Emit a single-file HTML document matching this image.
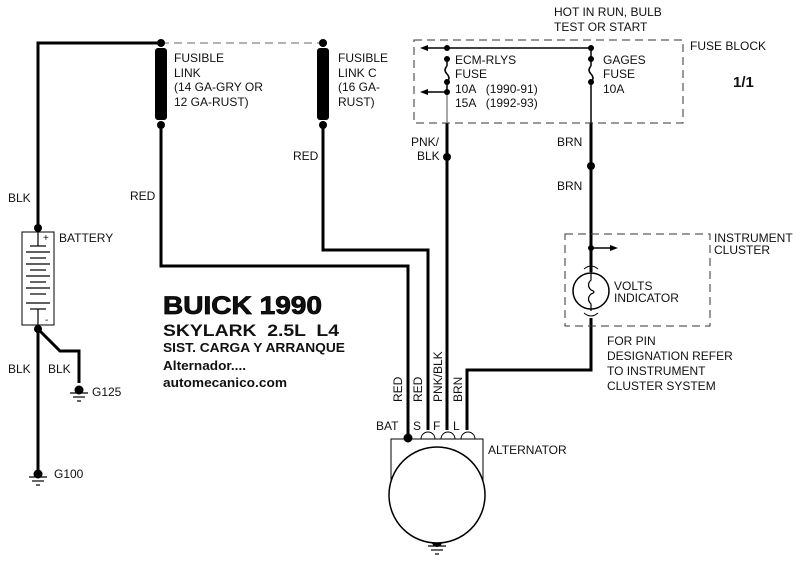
<!DOCTYPE html>
<html><head><meta charset="utf-8"><style>
body{margin:0;background:#fff;}
svg{display:block;font-family:"Liberation Sans",Arial,sans-serif;}
text{font-size:12px;fill:#111;}
.b{font-weight:bold;}
</style></head><body>
<svg width="800" height="562" viewBox="0 0 800 562" xmlns="http://www.w3.org/2000/svg">
<g stroke="#000" stroke-width="3" fill="none">
<polyline points="161,43 38,43 38,230"/>
<line x1="38" y1="326" x2="38" y2="470"/>
<polyline points="38,329 60,351 79,351 79,383"/>
<polyline points="161,125 161,266 408,266 408,438"/>
<polyline points="323,125 323,250 428,250 428,430"/>
<line x1="447" y1="123" x2="447" y2="430"/>
<polyline points="467,430 467,370 591,370 591,318"/>
<line x1="591" y1="123" x2="591" y2="272"/>
</g>
<line x1="161" y1="43" x2="323" y2="43" stroke="#999" stroke-width="1.5" stroke-dasharray="8,5"/>
<rect x="155" y="48" width="12" height="72" rx="3" fill="#000"/>
<rect x="317" y="48" width="12" height="72" rx="3" fill="#000"/>
<g fill="#000">
<circle cx="161" cy="43" r="4"/><circle cx="161" cy="125" r="4"/>
<circle cx="323" cy="43" r="4"/><circle cx="323" cy="125" r="4"/>
<circle cx="38" cy="228" r="4"/><circle cx="38" cy="329" r="4"/>
<circle cx="447" cy="157" r="4"/><circle cx="591" cy="166" r="4"/>
<circle cx="408" cy="438" r="4.5"/>
<circle cx="437" cy="542" r="5"/>
<circle cx="79" cy="390" r="4.5"/><circle cx="38" cy="474" r="4.5"/>
</g>
<g stroke="#000" stroke-width="1.2">
<line x1="70" y1="393" x2="88" y2="393"/><line x1="73" y1="397" x2="85" y2="397"/><line x1="77" y1="401" x2="81" y2="401"/>
<line x1="29" y1="477" x2="47" y2="477"/><line x1="32" y1="481" x2="44" y2="481"/><line x1="36" y1="485" x2="40" y2="485"/>
<line x1="428" y1="546" x2="446" y2="546"/><line x1="431" y1="550" x2="443" y2="550"/><line x1="435" y1="554" x2="439" y2="554"/>
</g>
<rect x="22" y="232" width="32" height="93" fill="none" stroke="#000" stroke-width="1"/>
<g stroke="#000" stroke-width="1.2">
<line x1="38" y1="232" x2="38" y2="246"/><line x1="38" y1="309" x2="38" y2="325"/>
<line x1="30" y1="246" x2="46" y2="246"/><line x1="26" y1="252" x2="50" y2="252"/>
<line x1="30" y1="258" x2="46" y2="258"/><line x1="26" y1="264" x2="50" y2="264"/>
<line x1="30" y1="270" x2="46" y2="270"/><line x1="26" y1="276" x2="50" y2="276"/>
<line x1="30" y1="282" x2="46" y2="282"/><line x1="26" y1="288" x2="50" y2="288"/>
<line x1="30" y1="294" x2="46" y2="294"/><line x1="26" y1="303" x2="50" y2="303"/>
<line x1="30" y1="309" x2="46" y2="309"/>
</g>
<text x="43" y="241" style="font-size:10px">+</text>
<text x="45" y="323" style="font-size:10px">-</text>
<rect x="414" y="40" width="269" height="83" fill="none" stroke="#333" stroke-width="1" stroke-dasharray="8,5"/>
<g stroke="#000" stroke-width="1.5" fill="none">
<line x1="426" y1="48" x2="591" y2="48"/>
<line x1="426" y1="92" x2="447" y2="92"/>
<line x1="447" y1="59" x2="447" y2="66"/><path d="M447,66 q-4,4 0,8 q4,4 0,8"/>
<line x1="447" y1="82" x2="447" y2="92"/>
<line x1="591" y1="48" x2="591" y2="66"/><path d="M591,66 q-4,4 0,8 q4,4 0,8"/>
<line x1="447" y1="92" x2="447" y2="123" stroke="#888"/>
<line x1="591" y1="82" x2="591" y2="123"/>
</g>
<g fill="#000">
<polygon points="420,48 428,45 428,51"/><polygon points="420,92 428,89 428,95"/>
<circle cx="447" cy="48" r="3"/><circle cx="447" cy="59" r="3"/><circle cx="447" cy="82" r="3"/><circle cx="447" cy="92" r="3"/>
<circle cx="591" cy="48" r="3"/><circle cx="591" cy="59" r="3"/><circle cx="591" cy="82" r="3"/>
</g>
<rect x="565" y="234" width="145" height="92" fill="none" stroke="#333" stroke-width="1" stroke-dasharray="8,5"/>
<line x1="591" y1="248" x2="612" y2="248" stroke="#000" stroke-width="1.5"/>
<polygon points="618,248 610,245 610,251" fill="#000"/>
<circle cx="591" cy="248" r="3" fill="#000"/>
<circle cx="591" cy="291" r="18" fill="#fff" stroke="#000" stroke-width="1.5"/>
<path d="M591,272 v8 q-5,5 0,10 q6,2 0,4 q-5,5 0,10 v7" fill="none" stroke="#000" stroke-width="1.2"/>
<path d="M584,269 q7,-6 14,0 M584,313 q7,6 14,0" fill="none" stroke="#000" stroke-width="1"/>
<rect x="391" y="439" width="92" height="45" fill="none" stroke="#000" stroke-width="1"/>
<circle cx="437" cy="495" r="48" fill="#fff" stroke="#000" stroke-width="1.5"/>
<path d="M421,439 a6,6 0 0 1 14,0 M441,439 a6,6 0 0 1 14,0 M461,439 a6,6 0 0 1 14,0" fill="none" stroke="#000" stroke-width="1"/>
<text x="174" y="62">FUSIBLE</text><text x="174" y="77">LINK</text>
<text x="174" y="91">(14 GA-GRY OR</text><text x="174" y="106">12 GA-RUST)</text>
<text x="338" y="62">FUSIBLE</text><text x="338" y="77">LINK C</text>
<text x="338" y="91">(16 GA-</text><text x="338" y="106">RUST)</text>
<text x="293" y="160">RED</text><text x="130" y="200">RED</text>
<text x="8" y="202">BLK</text><text x="59" y="242">BATTERY</text>
<text x="8" y="373">BLK</text><text x="48" y="373">BLK</text>
<text x="92" y="396">G125</text><text x="54" y="478">G100</text>
<text x="554" y="16">HOT IN RUN, BULB</text><text x="554" y="31">TEST OR START</text>
<text x="690" y="50">FUSE BLOCK</text>
<text x="733" y="87" class="b" style="font-size:15px">1/1</text>
<text x="455" y="64">ECM-RLYS</text><text x="455" y="78">FUSE</text>
<text x="455" y="93">10A &#160;&#160;(1990-91)</text><text x="455" y="107">15A &#160;&#160;(1992-93)</text>
<text x="603" y="64">GAGES</text><text x="603" y="78">FUSE</text><text x="603" y="93">10A</text>
<text x="411" y="146">PNK/</text><text x="417" y="160">BLK</text>
<text x="557" y="146">BRN</text><text x="557" y="190">BRN</text>
<text x="714" y="242">INSTRUMENT</text><text x="714" y="254">CLUSTER</text>
<text x="614" y="290">VOLTS</text><text x="614" y="302">INDICATOR</text>
<text x="607" y="345">FOR PIN</text><text x="607" y="360">DESIGNATION REFER</text>
<text x="607" y="375">TO INSTRUMENT</text><text x="607" y="390">CLUSTER SYSTEM</text>
<text x="163" y="314" class="b" style="font-size:25px;stroke:#000;stroke-width:0.8" textLength="159" lengthAdjust="spacingAndGlyphs">BUICK 1990</text>
<text x="163" y="336" class="b" style="font-size:17px" textLength="176" lengthAdjust="spacingAndGlyphs">SKYLARK &#160;2.5L &#160;L4</text>
<text x="163" y="352" class="b" style="font-size:13px" textLength="182" lengthAdjust="spacingAndGlyphs">SIST. CARGA Y ARRANQUE</text>
<text x="163" y="370" class="b" style="font-size:13px" textLength="83" lengthAdjust="spacingAndGlyphs">Alternador....</text>
<text x="163" y="387" class="b" style="font-size:13px" textLength="124" lengthAdjust="spacingAndGlyphs">automecanico.com</text>
<g style="font-size:12px">
<text transform="translate(402,402) rotate(-90)">RED</text>
<text transform="translate(422,402) rotate(-90)">RED</text>
<text transform="translate(442,402) rotate(-90)">PNK/BLK</text>
<text transform="translate(462,402) rotate(-90)">BRN</text>
</g>
<text x="376" y="430">BAT</text><text x="413" y="430">S</text><text x="433" y="430">F</text><text x="453" y="430">L</text>
<text x="488" y="454">ALTERNATOR</text>
</svg>
</body></html>
